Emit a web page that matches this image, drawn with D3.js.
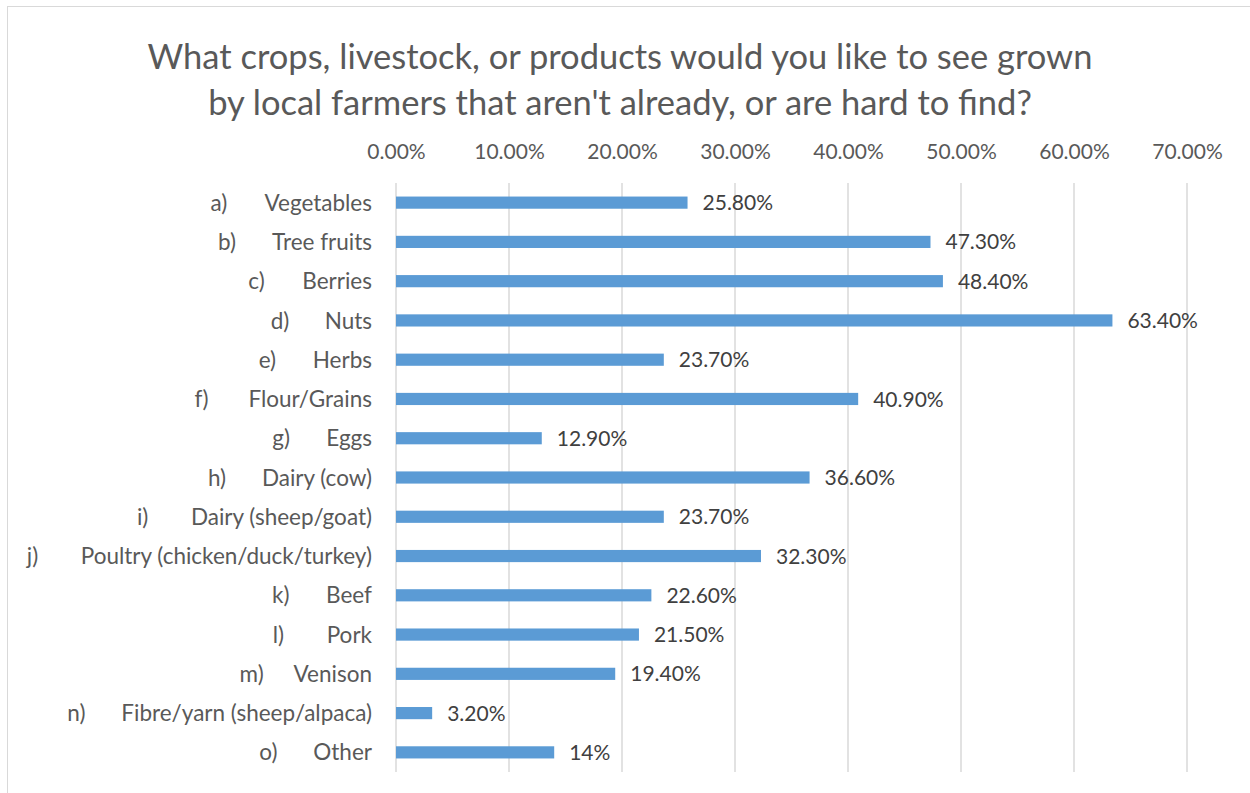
<!DOCTYPE html>
<html>
<head>
<meta charset="utf-8">
<script src="https://cdn.jsdelivr.net/npm/d3@7"></script>
<style>
  body { margin: 0; background: #fff; }
  text { font-family: Lato, "Open Sans", sans-serif; }
</style>
</head>
<body>
<div id="chart"></div>
<script>
// data
const letters = ["a)", "b)", "c)", "d)", "e)", "f)", "g)", "h)", "i)", "j)", "k)", "l)", "m)", "n)", "o)"];
const categories = ["Vegetables", "Tree fruits", "Berries", "Nuts", "Herbs", "Flour/Grains", "Eggs",
    "Dairy (cow)", "Dairy (sheep/goat)", "Poultry (chicken/duck/turkey)", "Beef", "Pork", "Venison",
    "Fibre/yarn (sheep/alpaca)", "Other"];
const values = [0.258, 0.473, 0.484, 0.634, 0.237, 0.409, 0.129, 0.366, 0.237, 0.323, 0.226, 0.215, 0.194, 0.032, 0.14];
const valueLabels = ["25.80%", "47.30%", "48.40%", "63.40%", "23.70%", "40.90%", "12.90%", "36.60%",
    "23.70%", "32.30%", "22.60%", "21.50%", "19.40%", "3.20%", "14%"];
const ticks = [0, 0.1, 0.2, 0.3, 0.4, 0.5, 0.6, 0.7];
const titleLines = ["What crops, livestock, or products would you like to see grown",
    "by local farmers that aren't already, or are hard to find?"];

const W = 1250, H = 793;
const margin = { top: 183, right: 63, bottom: 21, left: 396 };
const width = W - margin.left - margin.right,
    height = H - margin.top - margin.bottom;

const root = d3.select("#chart").append("svg")
    .attr("width", W)
    .attr("height", H);

// chart area border
root.append("rect")
    .attr("x", 7.5).attr("y", 6.5)
    .attr("width", W).attr("height", H)
    .attr("fill", "none")
    .attr("stroke", "#d9d9d9");

// title
root.append("text")
    .attr("text-anchor", "middle")
    .attr("fill", "#595959")
    .style("font-size", "34.5px")
    .selectAll("tspan")
    .data(titleLines)
    .join("tspan")
    .attr("x", 620)
    .attr("y", (d, i) => 69 + i * 46)
    .text(d => d);

const svg = root.append("g")
    .attr("transform", `translate(${margin.left},${margin.top})`);

const x = d3.scaleLinear()
    .domain([0, 0.7])
    .range([0, width]);

const y = d3.scaleBand()
    .domain(categories)
    .range([0, height])
    .paddingInner(0.69)
    .paddingOuter(0.345);

// gridlines
svg.append("g")
    .selectAll("line")
    .data(ticks)
    .join("line")
    .attr("x1", d => x(d)).attr("x2", d => x(d))
    .attr("y1", 0).attr("y2", height)
    .attr("stroke", "#d9d9d9")
    .attr("stroke-width", 1.5);

// top axis
const xAxis = svg.append("g")
    .attr("transform", "translate(0,-21)")
    .call(d3.axisTop(x).tickValues(ticks).tickSize(0).tickFormat(d3.format(".2%")));
xAxis.select(".domain").remove();
xAxis.selectAll("text")
    .attr("fill", "#595959")
    .style("font-size", "21px")
    .style("font-family", "Lato, sans-serif");

// bars
svg.append("g")
    .selectAll("rect")
    .data(values)
    .join("rect")
    .attr("x", x(0))
    .attr("y", (d, i) => y(categories[i]))
    .attr("width", d => x(d) - x(0))
    .attr("height", y.bandwidth())
    .attr("fill", "#5b9bd5");

// value labels
svg.append("g")
    .selectAll("text")
    .data(values)
    .join("text")
    .attr("x", d => x(d) + 15)
    .attr("y", (d, i) => y(categories[i]) + y.bandwidth() / 2)
    .attr("dy", "0.36em")
    .attr("fill", "#404040")
    .style("font-size", "21px")
    .text((d, i) => valueLabels[i]);

// category labels: name right aligned, letter at a tab stop before it
const labels = svg.append("g")
    .selectAll("g")
    .data(categories)
    .join("g")
    .attr("transform", d => `translate(0,${y(d) + y.bandwidth() / 2})`);

labels.append("text")
    .attr("class", "name")
    .attr("x", -24)
    .attr("dy", "0.36em")
    .attr("text-anchor", "end")
    .attr("fill", "#595959")
    .style("font-size", "22.5px")
    .text(d => d);

labels.each(function (d, i) {
    const g = d3.select(this);
    const w = g.select("text.name").node().getComputedTextLength();
    g.append("text")
        .attr("x", -24 - w - 54)
        .attr("dy", "0.36em")
        .attr("fill", "#595959")
        .style("font-size", "22.5px")
        .text(letters[i]);
});
</script>
</body>
</html>
